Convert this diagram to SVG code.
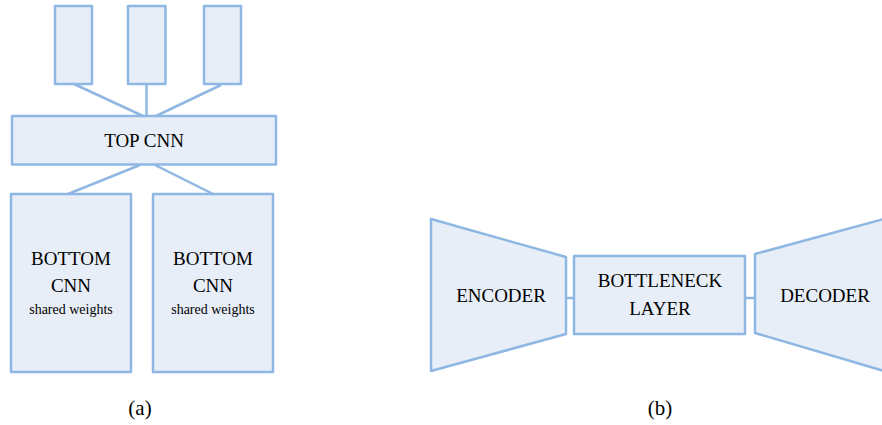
<svg xmlns="http://www.w3.org/2000/svg" width="882" height="425" viewBox="0 0 882 425">
<style>
.n{fill:#e7eef8;stroke:#8fb7e3;stroke-width:2.5;stroke-linejoin:round}
.c{stroke:#8fb7e3;stroke-width:2.5;fill:none}
.t{font-size:19px}
.s{font-size:14px}
.cap{font-size:21px}
</style>
<rect width="882" height="425" fill="#fff"/>
<g id="connectors">
<line class="c" x1="74" y1="84" x2="143" y2="116"/>
<line class="c" x1="146.5" y1="84" x2="146.5" y2="116"/>
<line class="c" x1="221" y1="85" x2="156" y2="116"/>
<line class="c" x1="140" y1="165" x2="68" y2="194"/>
<line class="c" x1="155" y1="165" x2="213" y2="194"/>
<line class="c" x1="566" y1="298" x2="574" y2="298"/>
<line class="c" x1="745" y1="298" x2="755" y2="298"/>
</g>
<g font-family="'Liberation Serif', 'Times New Roman', serif" fill="#000" text-anchor="middle">
<g id="in1"><rect class="n" x="55" y="6" width="37" height="78"/></g>
<g id="in2"><rect class="n" x="128" y="6" width="37.5" height="78"/></g>
<g id="in3"><rect class="n" x="204" y="6" width="37" height="78"/></g>
<g id="topcnn"><rect class="n" x="12" y="116" width="264" height="48.5"/><text class="t" x="144" y="147">TOP CNN</text></g>
<g id="bottom1"><rect class="n" x="11" y="194" width="120" height="178"/><text class="t" x="71" y="265">BOTTOM</text><text class="t" x="71" y="292">CNN</text><text class="s" x="71" y="314">shared weights</text></g>
<g id="bottom2"><rect class="n" x="153" y="194" width="120" height="178"/><text class="t" x="213" y="265">BOTTOM</text><text class="t" x="213" y="292">CNN</text><text class="s" x="213" y="314">shared weights</text></g>
<g id="encoder"><polygon class="n" points="431,219 566,257 566,334 431,371"/><text class="t" x="501" y="302">ENCODER</text></g>
<g id="bottleneck"><rect class="n" x="574" y="256" width="171" height="78"/><text class="t" x="660" y="287">BOTTLENECK</text><text class="t" x="660" y="315">LAYER</text></g>
<g id="decoder"><polygon class="n" points="755,254 884,219 884,371 755,333"/><text class="t" x="825" y="302">DECODER</text></g>
<text class="cap" x="140" y="415">(a)</text>
<text class="cap" x="660" y="415">(b)</text>
</g>
</svg>
